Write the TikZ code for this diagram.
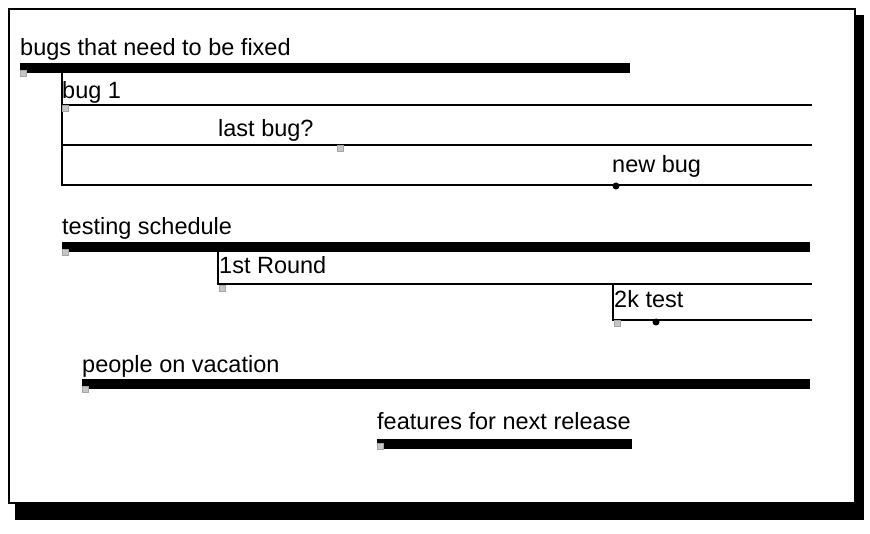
\documentclass[tikz,border=0pt]{standalone}
\usepackage{fontspec}
\setmainfont{Liberation Sans}
\usetikzlibrary{positioning}
\tikzset{
  lbl/.style={anchor=base west,inner sep=0pt,font=\fontsize{23.5}{27}\selectfont},
  bar/.style={line width=9.5pt},
  rule/.style={line width=1.6pt},
  handle/.style={fill=gray!45,draw=gray!70,line width=0.4pt,minimum size=6pt,inner sep=0pt},
  knob/.style={circle,fill=black,minimum size=7pt,inner sep=0pt}
}
\begin{document}
\begin{tikzpicture}[x=1pt,y=-1pt]
\useasboundingbox (0,0) rectangle (870,534);
% shadow and frame
\fill (15,503) rectangle (864,520);
\fill (855,15) rectangle (864,520);
\draw[line width=1.6pt,fill=white] (9,9) rectangle (855,503);

% bugs that need to be fixed
\node[lbl] (bugs) at (20,56) {bugs that need to be fixed};
\draw[bar] (20,68) -- (630,68);
\node[handle] (hbugs) at (23,73) {};
\draw[rule] (62,72) -- (62,185) -- (812,185);
\node[lbl] (bugone) at (62,99) {bug 1};
\draw[rule] (62,105) -- (812,105);
\node[handle] (hbugone) at (65,108) {};
\node[lbl] (lastbug) at (218,137) {last bug?};
\draw[rule] (62,145) -- (812,145);
\node[handle] (hlast) at (340,148) {};
\node[lbl] (newbug) at (612,173) {new bug};
\node[knob] (knew) at (616,186) {};

% testing schedule
\node[lbl] (testing) at (62,235) {testing schedule};
\draw[bar] (62,247) -- (810,247);
\node[handle] (htesting) at (65,252) {};
\draw[rule] (218,251) -- (218,284) -- (812,284);
\node[lbl] (round) at (219,274) {1st Round};
\node[handle] (hround) at (222,288) {};
\draw[rule] (613,284) -- (613,320) -- (812,320);
\node[lbl] (ktest) at (614,308) {2k test};
\node[handle] (hktest) at (617,323) {};
\node[knob] (kktest) at (656,322) {};

% people on vacation
\node[lbl] (people) at (82,373) {people on vacation};
\draw[bar] (82,384) -- (810,384);
\node[handle] (hpeople) at (85,389) {};

% features for next release
\node[lbl] (features) at (377,429) {features for next release};
\draw[bar] (377,444) -- (632,444);
\node[handle] (hfeatures) at (380,446) {};
\end{tikzpicture}
\end{document}
